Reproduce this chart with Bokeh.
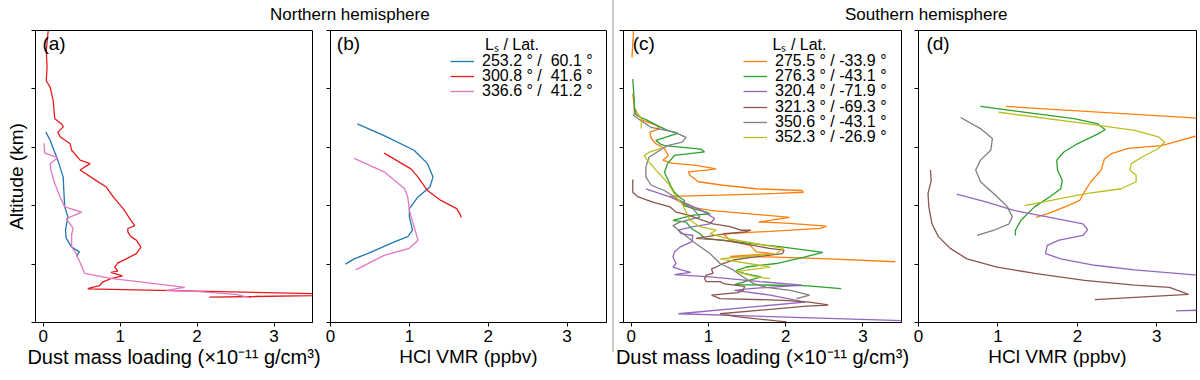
from bokeh.plotting import figure
from bokeh.models import (Legend, LegendItem, Label, FixedTicker, Range1d, Div,
                          CustomLabelingPolicy)
from bokeh.layouts import row, column
from bokeh.embed import file_html
from bokeh.resources import INLINE

nan = float("nan")
FONT = "Liberation Sans"

# ---------------- colours / labels ----------------
north_labels = ["253.2 ° /  60.1 °", "300.8 ° /  41.6 °", "336.6 ° /  41.2 °"]
north_colors = ["#1f77b4", "#e41a1c", "#e377c2"]
south_labels = ["275.5 ° / -33.9 °", "276.3 ° / -43.1 °", "320.4 ° / -71.9 °",
                "321.3 ° / -69.3 °", "350.6 ° / -43.1 °", "352.3 ° / -26.9 °"]
south_colors = ["#ff7f0e", "#2ca02c", "#9467bd", "#8c564b", "#7f7f7f", "#bcbd22"]
legend_title = "Lₛ / Lat."
x_ticks = [0, 1, 2, 3]
y_ticks = [0, 10, 20, 30, 40, 50]

# ---------------- (a) dust, northern ----------------
dust_n1_x = [0.035, 0.09, 0.19, 0.26, 0.27, 0.28, 0.32, 0.29, 0.30, 0.37, 0.47, 0.43]
dust_n1_z = [32.6, 31.2, 27.8, 24.9, 22.1, 19.8, 18.1, 15.8, 14.4, 12.9, 12.1, 11.3]
dust_n2_x = [0.065, 0.04, 0.05, 0.04, 0.09, 0.13, 0.15, 0.24, 0.26, 0.19, 0.22, 0.35, 0.37, 0.48,
             0.61, 0.48, 0.69, 0.82, 0.91, 1.04, 1.14, 1.19, 1.10, 1.10, 1.14, 1.21, 1.27, 1.21,
             1.08, 0.97, 0.93, 0.97, 0.88, 1.03, 0.88, 0.77, 0.73, 0.60, 0.58, 4.2, 2.16]
dust_n2_z = [50.0, 46.6, 43.7, 41.4, 40.3, 38.0, 34.9, 34.0, 33.5, 32.6, 31.8, 30.6, 29.5, 27.8,
             27.2, 26.1, 24.3, 23.2, 21.5, 19.5, 17.5, 16.6, 16.1, 15.5, 14.7, 14.1, 12.9, 11.8,
             10.9, 10.2, 9.5, 8.8, 8.6, 8.0, 7.5, 6.9, 6.3, 5.9, 5.77, 4.75, 4.33]
dust_n3_x = [0.01, 0.02, 0.11, 0.19, 0.09, 0.10, 0.15, 0.22, 0.28, 0.50, 0.30, 0.39, 0.37, 0.37,
             0.43, 0.54, 0.74, 0.90, 1.29, 1.84, 1.60, 2.03, 2.50, 2.70]
dust_n3_z = [30.7, 29.0, 28.6, 28.2, 27.2, 26.1, 23.8, 21.5, 19.8, 18.9, 17.8, 16.1, 15.2, 12.9,
             11.8, 8.4, 7.9, 7.5, 6.9, 6.0, 5.5, 5.3, 4.8, 4.2]

# ---------------- (b) HCl, northern ----------------
hcl_n1_x = [0.34, 0.68, 1.06, 1.23, 1.30, 1.26, 1.11, 1.00, 1.00, 1.04, 0.98, 0.81, 0.47, 0.30, 0.19]
hcl_n1_z = [34.0, 32.0, 29.5, 27.2, 24.9, 23.2, 21.5, 19.5, 18.1, 15.8, 14.7, 13.8, 11.8, 10.9, 10.0]
hcl_n2_x = [0.68, 1.02, 1.11, 1.23, 1.40, 1.60, 1.64, 1.66]
hcl_n2_z = [29.0, 26.3, 24.9, 22.6, 20.9, 19.5, 18.6, 18.0]
hcl_n3_x = [0.30, 0.68, 0.94, 0.98, 1.00, 1.06, 1.11, 1.00, 0.68, 0.32]
hcl_n3_z = [28.1, 25.8, 22.9, 21.5, 19.2, 16.4, 14.1, 12.7, 11.5, 9.0]

# ---------------- (c) dust, southern ----------------
dust_s1_x = [0.03, 0.01, nan, 0.02, 0.04, 0.09, 0.15, 0.32, 0.37, 0.24, 0.26, 0.32, 0.43, 0.48,
             0.41, 0.52, 0.84, 1.10, 0.97, 0.74, 0.76, 0.87, 1.19, 1.62, 2.21, 2.23, 1.88, 1.15,
             0.50, 0.76, 1.02, 1.54, 2.05, 1.65, 2.00, 2.53, 2.45, 1.80, 1.19, 1.28, 1.54, 1.62,
             1.84, 1.28, 1.88, 2.57, 3.42]
dust_s1_z = [50.0, 45.4, nan, 39.2, 36.9, 35.5, 34.6, 33.8, 33.2, 32.6, 31.5, 30.6, 29.8, 28.6,
             27.8, 27.3, 26.9, 26.3, 26.1, 25.8, 25.2, 24.1, 23.5, 22.9, 22.6, 22.3, 22.1, 21.8,
             21.6, 19.8, 19.2, 18.6, 18.0, 17.2, 17.0, 16.5, 16.1, 15.6, 15.2, 14.1, 13.2, 12.1,
             11.8, 11.3, 11.2, 10.9, 10.4]
dust_s2_x = [0.02, 0.04, 0.04, 0.08, 0.21, 0.34, 0.47, 0.60, 0.32, 0.37, 0.43, 0.90, 0.95, 0.56,
             0.47, 0.43, 0.47, 0.52, 0.56, 0.62, 0.69, 0.67, 0.80, 0.97, 1.02, 0.80, 0.54, 0.71,
             0.78, 0.89, 0.95, 1.36, 1.71, 1.92, 2.48, 2.24, 1.88, 1.49, 1.36, 1.46, 1.68, 1.34,
             2.24, 2.72]
dust_s2_z = [41.7, 38.0, 36.0, 35.4, 34.6, 33.7, 32.9, 32.4, 31.2, 30.6, 30.3, 29.7, 29.2, 28.6,
             27.2, 25.7, 24.6, 23.2, 22.3, 21.5, 20.9, 20.1, 19.5, 18.9, 18.6, 18.4, 17.5, 17.2,
             16.1, 15.2, 14.4, 13.8, 13.3, 13.0, 12.0, 11.2, 10.1, 9.5, 8.9, 8.4, 7.8, 6.5,
             6.3, 5.8]
dust_s3_x = [0.19, 0.50, 0.71, 0.91, 1.08, 1.02, 0.80, 0.61, 0.65, 0.80, 0.78, 0.63, 0.56, 0.54,
             0.58, 0.54, 0.65, 0.77, 0.56, 1.02, 1.67, 2.21, 1.54, 1.34, 1.80, 2.25, 0.61, 3.6]
dust_s3_z = [22.9, 21.5, 20.4, 19.2, 17.8, 16.9, 16.4, 15.8, 15.2, 14.9, 13.8, 12.9, 12.1, 11.2,
             10.1, 9.5, 9.0, 8.6, 8.2, 7.8, 7.0, 6.4, 5.8, 5.5, 4.7, 3.5, 1.5, 0.3]
dust_s4_x = [0.02, 0.02, 0.09, 0.28, 0.50, 0.58, 0.74, 0.93, 1.06, 1.28, 1.42, 1.55, 1.47, 1.23,
             0.84, 1.19, 1.79, 1.98, 1.96, 1.58, 1.32, 1.19, 1.10, 1.04, 1.06, 0.97, 0.95, 0.97,
             1.15, 1.21, 1.47, 1.45, 1.38, 1.04, 1.15, 1.97, 2.31, 2.55, 2.27, 1.15, 1.36, 2.01]
dust_s4_z = [24.5, 22.3, 21.5, 20.6, 19.8, 18.9, 18.4, 17.5, 16.9, 16.4, 15.8, 15.8, 15.5, 15.2,
             14.4, 14.1, 12.7, 12.4, 11.8, 11.2, 10.7, 10.1, 9.5, 9.2, 8.4, 8.1, 7.5, 7.0,
             7.0, 6.6, 6.2, 5.5, 5.1, 4.7, 4.1, 3.8, 3.5, 3.0, 2.8, 1.5, 1.0, 0.1]
dust_s5_x = [0.06, 0.03, 0.09, 0.26, 0.56, 0.71, 0.66, 0.47, 0.23, 0.19, 0.19, 0.26, 0.43, 0.56,
             0.69, 0.80, 0.89, 0.63, 0.54, 0.67, 0.84, 1.02, 1.15, 1.32, 1.45, 1.58, 1.75, 2.06,
             2.31, 2.14]
dust_s5_z = [36.3, 35.5, 34.9, 33.4, 32.6, 31.7, 30.9, 30.3, 28.3, 26.6, 24.9, 23.5, 22.6, 21.5,
             20.4, 19.5, 18.1, 17.2, 16.6, 15.2, 13.5, 11.8, 10.1, 9.0, 7.8, 6.7, 6.0, 5.5,
             4.7, 4.1]
dust_s6_x = [0.08, 0.13, 0.13, nan, 0.39, 0.24, 0.17, 0.19, 0.32, 0.48, 0.58, 0.67, 0.76, 0.89,
             1.10, 1.02, 1.23, 1.75, 1.97, 1.88, 1.15, 1.80, 1.36, 1.62, 1.80]
dust_s6_z = [35.8, 35.0, 33.2, nan, 29.8, 29.2, 28.6, 28.1, 26.1, 23.8, 21.5, 20.1, 17.5, 16.4,
             15.8, 15.2, 14.4, 13.2, 12.7, 11.8, 10.9, 9.5, 8.7, 7.8, 7.5]

# ---------------- (d) HCl, southern ----------------
hcl_s1_x = [1.10, 3.51, 4.3, 3.51, 3.06, 2.64, 2.43, 2.34, 2.30, 2.17, 2.09, 2.03, 1.86, 1.62, 1.48]
hcl_s1_z = [37.0, 35.0, 34.3, 32.0, 30.3, 29.8, 28.9, 28.0, 26.1, 24.1, 22.4, 20.9, 19.9, 18.6, 18.0]
hcl_s2_x = [0.78, 1.96, 2.26, 2.35, 2.26, 2.00, 1.83, 1.74, 1.75, 1.81, 1.79, 1.65, 1.46, 1.29, 1.22, 1.22]
hcl_s2_z = [37.0, 34.9, 34.0, 33.0, 32.3, 30.6, 29.2, 27.8, 26.1, 24.3, 22.9, 21.5, 19.8, 17.5, 15.8, 14.9]
hcl_s3_x = [0.48, 0.86, 1.20, 1.62, 1.96, 2.07, 2.13, 2.07, 1.77, 1.62, 1.60, 1.79, 2.22, 2.72, 3.51,
            4.6, 4.2, 3.51, 3.24]
hcl_s3_z = [22.0, 20.6, 19.2, 18.1, 17.2, 16.9, 15.9, 14.9, 14.1, 13.2, 11.8, 10.9, 9.8, 9.0, 8.1,
            7.0, 2.3, 2.1, 2.0]
hcl_s4_x = [0.15, 0.16, 0.12, 0.13, 0.17, 0.25, 0.40, 0.61, 0.99, 1.46, 2.09, 2.72, 3.16, 3.40, 2.22]
hcl_s4_z = [26.1, 24.3, 22.1, 19.8, 16.9, 14.7, 12.7, 10.9, 9.5, 8.4, 7.2, 6.4, 6.0, 4.8, 3.9]
hcl_s5_x = [0.53, 0.78, 0.93, 0.91, 0.78, 0.72, 0.78, 0.97, 1.12, 1.18, 1.14, 0.95, 0.74]
hcl_s5_z = [35.1, 33.2, 31.5, 29.5, 27.8, 26.1, 24.1, 21.8, 19.8, 18.1, 16.9, 15.8, 14.9]
hcl_s6_x = [1.01, 2.13, 2.72, 3.02, 3.10, 3.02, 2.81, 2.68, 2.66, 2.74, 2.74, 2.55, 2.13, 1.67, 1.34]
hcl_s6_z = [36.0, 34.0, 32.9, 31.8, 30.9, 29.8, 28.3, 27.2, 26.1, 25.2, 24.1, 22.9, 22.1, 20.9, 20.0]

FRAME_H = 292


def make_fig(x_start, frame_w, left, right, xlabel, xlabel_size, ylabel=None):
    p = figure(frame_width=frame_w, frame_height=FRAME_H,
               x_range=Range1d(x_start, 3.5), y_range=Range1d(0, 50),
               output_backend="svg", toolbar_location=None,
               min_border_left=left, min_border_right=right,
               min_border_top=4, min_border_bottom=48)
    p.xgrid.visible = False
    p.ygrid.visible = False
    p.background_fill_color = "white"
    p.border_fill_color = "white"
    p.outline_line_color = "black"
    p.outline_line_alpha = 1
    p.outline_line_width = 1
    p.xaxis.ticker = FixedTicker(ticks=x_ticks)
    p.yaxis.ticker = FixedTicker(ticks=y_ticks)
    for ax in (p.xaxis[0], p.yaxis[0]):
        ax.minor_tick_line_color = None
        ax.major_tick_in = 0
        ax.major_tick_out = 4
        ax.axis_line_color = "black"
        ax.major_tick_line_color = "black"
        ax.major_label_text_font = FONT
        ax.major_label_text_font_size = "17px"
        ax.major_label_text_color = "black"
        ax.axis_label_text_font = FONT
        ax.axis_label_text_font_size = "19px"
        ax.axis_label_text_font_style = "normal"
        ax.axis_label_text_color = "black"
    p.xaxis.major_label_standoff = 3
    p.xaxis.axis_label_standoff = 1
    p.xaxis.axis_label = xlabel
    p.xaxis.axis_label_text_font_size = xlabel_size
    # altitude ticks carry no labels in the reference
    p.yaxis.major_label_text_font_size = "1px"
    p.yaxis.major_label_policy = CustomLabelingPolicy(code="return []")
    p.yaxis.major_label_standoff = 0
    p.yaxis.axis_label_standoff = 0
    if ylabel:
        p.yaxis.axis_label = ylabel
    return p


def add_panel_label(p, text, x):
    p.add_layout(Label(x=x, y=47.8, text=text, text_font=FONT, text_font_size="19px",
                       text_baseline="middle", text_align="left", text_color="black"))


def add_legend(p, renderers, labels, title_x):
    """Compact matplotlib-like legend: one row per entry, 15 px pitch."""
    p.add_layout(Label(x=title_x, y=47.6, text=legend_title, text_font=FONT,
                       text_font_size="16px", text_baseline="middle", text_align="left",
                       text_color="black"))
    first_row_from_top = 31
    pitch = 15.2
    for i, (lab, r) in enumerate(zip(labels, renderers)):
        centre_from_top = first_row_from_top + i * pitch
        lg = Legend(items=[LegendItem(label=lab, renderers=[r])],
                    location=(120, FRAME_H - centre_from_top - 9),
                    label_text_font=FONT, label_text_font_size="16px",
                    label_text_color="black",
                    label_height=14, glyph_height=14, glyph_width=24, label_standoff=8,
                    spacing=0, padding=0, margin=0,
                    border_line_alpha=0, background_fill_alpha=0)
        p.add_layout(lg)


LW = 1.3
dust_label = "Dust mass loading (×10⁻¹¹ g/cm³)"
hcl_label = "HCl VMR (ppbv)"

# (a)
pa = make_fig(-0.1, 277, 35, 8, dust_label, "20px", "Altitude (km)")
for xs, zs, c in [(dust_n1_x, dust_n1_z, north_colors[0]),
                  (dust_n2_x, dust_n2_z, north_colors[1]),
                  (dust_n3_x, dust_n3_z, north_colors[2])]:
    pa.line(xs, zs, color=c, line_width=LW)
add_panel_label(pa, "(a)", -0.01)

# (b)
pb = make_fig(0, 276, 10, 6, hcl_label, "19px")
rb = []
for xs, zs, c in [(hcl_n1_x, hcl_n1_z, north_colors[0]),
                  (hcl_n2_x, hcl_n2_z, north_colors[1]),
                  (hcl_n3_x, hcl_n3_z, north_colors[2])]:
    rb.append(pb.line(xs, zs, color=c, line_width=LW))
add_panel_label(pb, "(b)", 0.08)
add_legend(pb, rb, north_labels, 1.96)

# (c)
pc = make_fig(-0.1, 278, 9, 8, dust_label, "20px")
rc = []
for xs, zs, c in [(dust_s1_x, dust_s1_z, south_colors[0]),
                  (dust_s2_x, dust_s2_z, south_colors[1]),
                  (dust_s3_x, dust_s3_z, south_colors[2]),
                  (dust_s4_x, dust_s4_z, south_colors[3]),
                  (dust_s5_x, dust_s5_z, south_colors[4]),
                  (dust_s6_x, dust_s6_z, south_colors[5])]:
    rc.append(pc.line(xs, zs, color=c, line_width=LW))
add_panel_label(pc, "(c)", 0.02)
add_legend(pc, rc, south_labels, 1.83)

# (d)
pd_ = make_fig(0, 278, 9, 3, hcl_label, "19px")
for xs, zs, c in [(hcl_s1_x, hcl_s1_z, south_colors[0]),
                  (hcl_s2_x, hcl_s2_z, south_colors[1]),
                  (hcl_s3_x, hcl_s3_z, south_colors[2]),
                  (hcl_s4_x, hcl_s4_z, south_colors[3]),
                  (hcl_s5_x, hcl_s5_z, south_colors[4]),
                  (hcl_s6_x, hcl_s6_z, south_colors[5])]:
    pd_.line(xs, zs, color=c, line_width=LW)
add_panel_label(pd_, "(d)", 0.1)

hdr_style = {"font-family": FONT, "font-size": "17px", "line-height": "30px",
             "color": "black", "white-space": "nowrap"}
hdr_n = Div(text="Northern hemisphere", width=612, height=26, margin=0,
            styles=dict(hdr_style, **{"padding-left": "270px"}))
hdr_s = Div(text="Southern hemisphere", width=586, height=26, margin=0,
            styles=dict(hdr_style, **{"padding-left": "231px"}))
sep = Div(text="", width=2, height=352, margin=0, styles={"background-color": "#c8c8c8"})

layout = row(column(hdr_n, row(pa, pb)), sep, column(hdr_s, row(pc, pd_)))

with open("out.html", "w") as f:
    f.write(file_html(layout, INLINE))
